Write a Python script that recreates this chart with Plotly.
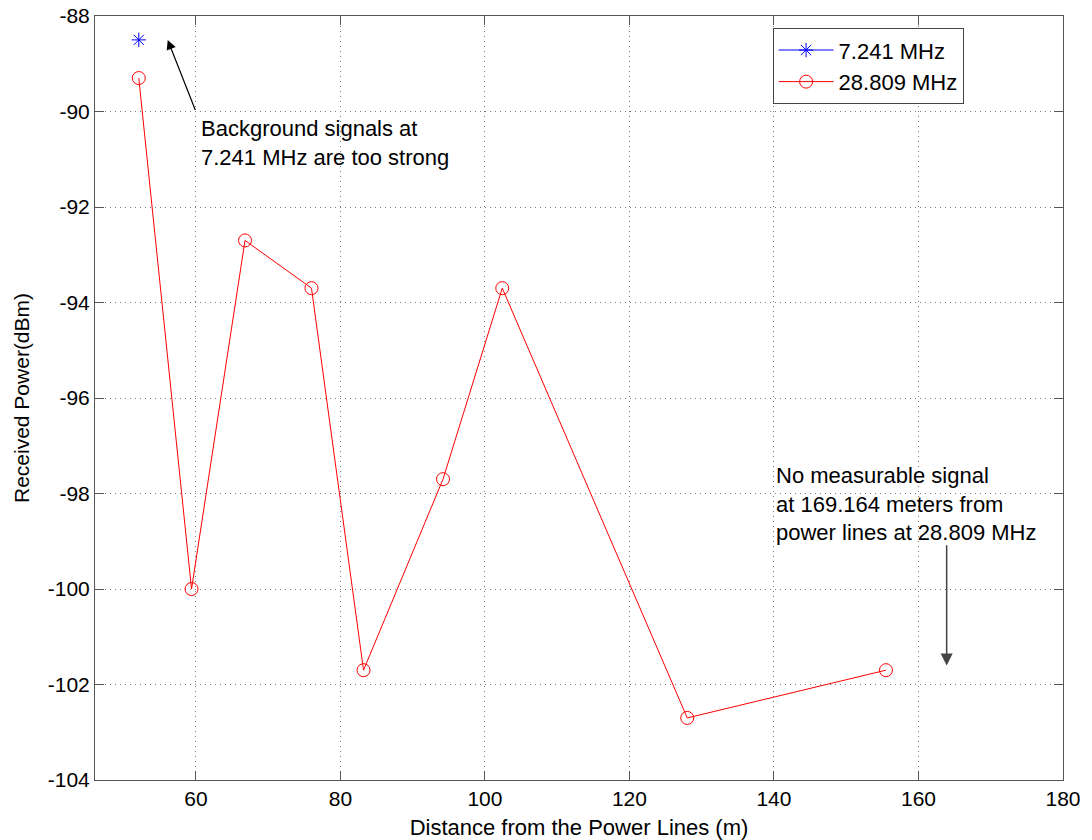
import plotly.graph_objects as go

# Data
x_7mhz = [52.1]
y_7mhz = [-88.5]
x_28mhz = [52.1, 59.4, 66.8, 76.0, 83.2, 94.2, 102.4, 128.0, 155.5]
y_28mhz = [-89.3, -100.0, -92.7, -93.7, -101.7, -97.7, -93.7, -102.7, -101.7]
x_ticks = [60, 80, 100, 120, 140, 160, 180]
y_ticks = [-104, -102, -100, -98, -96, -94, -92, -90, -88]
y_tick_labels = ["-104", "-102", "-100", "-98", "-96", "-94", "-92", "-90", "-88"]

FONT = "Liberation Sans, Arial, sans-serif"

fig = go.Figure()
fig.add_trace(go.Scatter(
    x=x_7mhz, y=y_7mhz, mode="lines+markers", name="7.241 MHz",
    line=dict(color="blue", width=1),
    marker=dict(symbol="asterisk-open", size=12, color="blue", line=dict(color="blue", width=1)),
))
fig.add_trace(go.Scatter(
    x=x_28mhz, y=y_28mhz, mode="lines+markers", name="28.809 MHz",
    line=dict(color="red", width=1),
    marker=dict(symbol="circle-open", size=13, color="red", line=dict(color="red", width=1)),
))

axis_common = dict(
    showline=True, linecolor="#555555", linewidth=1, mirror="ticks",
    ticks="inside", ticklen=9, tickcolor="#555555",
    showgrid=True, gridcolor="#777777", griddash="1px,4px", gridwidth=1,
    zeroline=False, automargin=False,
    tickfont=dict(family=FONT, size=21, color="black"),
)

fig.update_xaxes(range=[46.04, 180], tickvals=x_ticks,
                 title=dict(text="Distance from the Power Lines (m)", font=dict(family=FONT, size=22, color="black"), standoff=11),
                 **axis_common)
fig.update_yaxes(range=[-104, -88], tickvals=y_ticks, ticktext=y_tick_labels,
                 title=dict(text="Received Power(dBm)", font=dict(family=FONT, size=21, color="black"), standoff=12),
                 **axis_common)

# Annotations
fig.add_annotation(x=56.1, y=-88.5, ax=60.0, ay=-90.0, xref="x", yref="y", axref="x", ayref="y",
                   showarrow=True, arrowhead=2, arrowsize=1.6, arrowwidth=1.2, arrowcolor="black", text="")
fig.add_annotation(x=60.45, y=-90.06, xref="x", yref="y", xanchor="left", yanchor="top", align="left",
                   showarrow=False,
                   text="Background signals at<br>7.241 MHz are too strong",
                   font=dict(family=FONT, size=22, color="black"))
fig.add_annotation(x=163.9, y=-101.6, ax=163.9, ay=-99.05, xref="x", yref="y", axref="x", ayref="y",
                   showarrow=True, arrowhead=2, arrowsize=1.6, arrowwidth=1.5, arrowcolor="#444444", text="")
fig.add_annotation(x=140.0, y=-97.32, xref="x", yref="y", xanchor="left", yanchor="top", align="left",
                   showarrow=False,
                   text="No measurable signal<br>at 169.164 meters from<br>power lines at 28.809 MHz",
                   font=dict(family=FONT, size=22, color="black"))

fig.update_layout(
    width=1092, height=840,
    margin=dict(l=95, r=29, t=16, b=60, autoexpand=False),
    paper_bgcolor="white", plot_bgcolor="white",
    font=dict(family=FONT, color="black"),
    legend=dict(x=0.700, y=0.984, xanchor="left", yanchor="top",
                bgcolor="white", bordercolor="#444444", borderwidth=1,
                font=dict(family=FONT, size=22, color="black"),
                tracegroupgap=0, itemwidth=55),
    showlegend=True,
)

fig.write_html("out.html")
